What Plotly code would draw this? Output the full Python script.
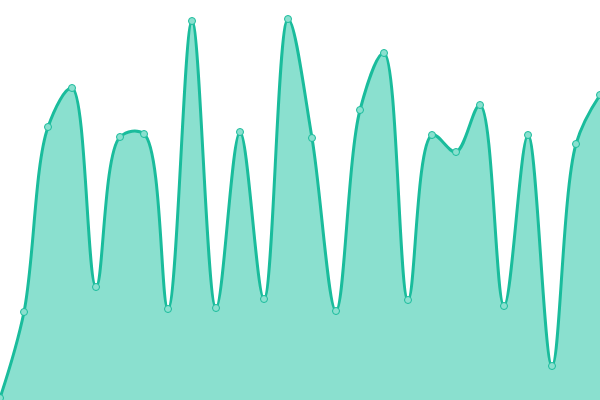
import plotly.graph_objects as go

x_index = list(range(26))
values = [2, 88, 273, 312, 113, 263, 266, 91, 379, 92, 268, 101, 381, 262,
          89, 290, 347, 100, 265, 248, 295, 94, 265, 34, 256, 305]

fig = go.Figure()
fig.add_trace(go.Scatter(
    x=x_index, y=values, mode="lines+markers",
    line=dict(color="#1abc9c", width=3, shape="spline", smoothing=1),
    fill="tozeroy", fillcolor="#8ae0cf",
    marker=dict(size=7, color="#8ae0cf", line=dict(color="#1abc9c", width=1)),
    cliponaxis=False, hoverinfo="skip",
))
fig.update_layout(
    width=600, height=400, margin=dict(l=0, r=0, t=0, b=0, autoexpand=False),
    paper_bgcolor="white", plot_bgcolor="white", showlegend=False,
    xaxis=dict(range=[0, 25], visible=False, fixedrange=True),
    yaxis=dict(range=[0, 400], visible=False, fixedrange=True),
)
fig.write_html("out.html", config={"displayModeBar": False},
               post_script="document.body.style.margin='0';document.body.style.overflow='hidden';")
